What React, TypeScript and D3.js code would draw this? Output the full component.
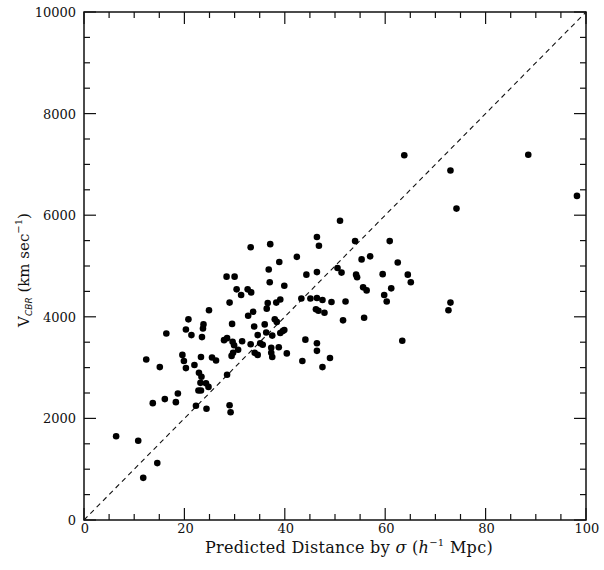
import React, { useRef, useEffect } from "react";
import * as d3 from "d3";

// predicted distance (h^-1 Mpc)
const distance: number[] = [
  6.4, 10.8, 11.8, 14.6, 12.4, 15.1, 13.7, 16.1, 18.3, 18.7,
  16.4, 19.6, 19.9, 20.3, 20.3, 20.8, 21.4, 22.0, 22.3, 23.3,
  23.5, 23.7, 23.8, 24.9, 22.9, 23.4, 23.2, 24.3, 24.8, 22.8,
  23.3, 24.4, 25.5, 26.3, 28.5, 29.0, 29.2, 29.0, 28.4, 30.0,
  30.4, 31.3, 29.5, 27.9, 28.5, 29.6, 29.9, 29.7, 29.4, 30.7,
  31.5, 32.6, 33.3, 32.7, 33.7, 33.9, 33.2, 34.0, 34.6, 34.6,
  35.1, 35.6, 36.0, 36.4, 36.6, 36.3, 36.8, 37.0, 37.5, 37.3,
  37.3, 37.5, 38.0, 38.4, 38.8, 38.9, 38.3, 39.1, 39.1, 39.6,
  39.9, 39.9, 40.4, 42.4, 43.3, 43.5, 44.3, 44.1, 45.1, 46.4,
  46.4, 47.5, 46.2, 46.7, 47.9, 46.4, 46.4, 47.5, 49.0, 49.3,
  50.5, 51.3, 52.1, 51.6, 54.2, 54.4, 55.3, 57.0, 55.6, 56.3,
  55.8, 59.5, 59.8, 60.3, 61.2, 62.5, 63.4, 64.5, 65.1, 72.6,
  73.0, 63.8, 88.5, 73.0, 74.2, 98.2, 51.0, 54.0, 60.9, 33.2,
  37.1, 46.4, 46.8,
];

// V_CBR (km/s)
const velocity: number[] = [
  1650, 1560, 830, 1120, 3160, 3010, 2300, 2380, 2320, 2490,
  3670, 3250, 3130, 2990, 3750, 3950, 3640, 3050, 2250, 3210,
  3600, 3770, 3850, 4130, 2900, 2820, 2700, 2690, 2620, 2550,
  2550, 2190, 3200, 3140, 2860, 2260, 2120, 4280, 4790, 4790,
  4540, 4430, 3860, 3540, 3580, 3510, 3440, 3290, 3230, 3350,
  3520, 4540, 4480, 4020, 4100, 3810, 3460, 3290, 3250, 3640,
  3480, 3450, 3850, 4160, 4270, 3690, 4930, 4680, 3630, 3390,
  3290, 3210, 3950, 3900, 3400, 5080, 4280, 4340, 3680, 3720,
  3740, 4610, 3280, 5180, 4360, 3130, 4830, 3550, 4360, 4880,
  4370, 4330, 4150, 4120, 4080, 3480, 3330, 3010, 3190, 4290,
  4960, 4870, 4300, 3930, 4830, 4780, 5130, 5190, 4580, 4520,
  3980, 4840, 4430, 4300, 4560, 5070, 3530, 4830, 4680, 4130,
  4280, 7180, 7190, 6880, 6130, 6380, 5890, 5490, 5490, 5370,
  5430, 5570, 5400,
];

const xTicks = [0, 20, 40, 60, 80, 100];
const yTicks = [0, 2000, 4000, 6000, 8000, 10000];

const FONT = "'DejaVu Serif', serif";

const App = () => {
  const svgRef = useRef<SVGSVGElement>(null);

  useEffect(() => {
    const svg = d3.select(svgRef.current);
    svg.selectAll("*").remove();

    const left = 84, right = 586, top = 12, bottom = 520;
    const ink = "#111";

    const x = d3.scaleLinear().domain([0, 100]).range([left, right]);
    const y = d3.scaleLinear().domain([0, 10000]).range([bottom, top]);

    const g = svg.append("g");

    // ticks on all four sides, pointing inward
    const xMinor = d3.range(0, 101, 5);
    const yMinor = d3.range(0, 10001, 500);
    const tickLen = (major: boolean) => (major ? 12 : 6);

    xMinor.forEach((v) => {
      const major = v % 20 === 0;
      g.append("line").attr("x1", x(v)).attr("x2", x(v))
        .attr("y1", bottom).attr("y2", bottom - tickLen(major))
        .attr("stroke", ink).attr("stroke-width", 1.2);
      g.append("line").attr("x1", x(v)).attr("x2", x(v))
        .attr("y1", top).attr("y2", top + tickLen(major))
        .attr("stroke", ink).attr("stroke-width", 1.2);
    });
    yMinor.forEach((v) => {
      const major = v % 2000 === 0;
      g.append("line").attr("x1", left).attr("x2", left + tickLen(major))
        .attr("y1", y(v)).attr("y2", y(v))
        .attr("stroke", ink).attr("stroke-width", 1.2);
      g.append("line").attr("x1", right).attr("x2", right - tickLen(major))
        .attr("y1", y(v)).attr("y2", y(v))
        .attr("stroke", ink).attr("stroke-width", 1.2);
    });

    g.append("rect")
      .attr("x", left).attr("y", top)
      .attr("width", right - left).attr("height", bottom - top)
      .attr("fill", "none").attr("stroke", ink).attr("stroke-width", 1.5);

    // tick labels
    g.selectAll(".xlab").data(xTicks).enter().append("text")
      .attr("x", (d) => x(d) + 1).attr("y", bottom + 13)
      .attr("text-anchor", "middle")
      .attr("font-family", FONT).attr("font-size", 13).attr("fill", ink)
      .text((d) => d);

    g.selectAll(".ylab").data(yTicks).enter().append("text")
      .attr("x", left - 8).attr("y", (d) => y(d) + 5)
      .attr("text-anchor", "end")
      .attr("font-family", FONT).attr("font-size", 13).attr("fill", ink)
      .text((d) => d);

    // one-to-one line
    g.append("line")
      .attr("x1", x(0)).attr("y1", y(0))
      .attr("x2", x(100)).attr("y2", y(10000))
      .attr("stroke", ink).attr("stroke-width", 1.1)
      .attr("stroke-dasharray", "5,4");

    // points
    g.selectAll(".pt").data(distance).enter().append("circle")
      .attr("cx", (d) => x(d))
      .attr("cy", (d, i) => y(velocity[i]))
      .attr("r", 3.3)
      .attr("fill", "#000");

    // x axis title
    const xt = g.append("text")
      .attr("x", 349).attr("y", 553)
      .attr("text-anchor", "middle")
      .attr("letter-spacing", 0.3)
      .attr("font-family", FONT).attr("font-size", 16).attr("fill", ink);
    xt.append("tspan").text("Predicted Distance by ");
    xt.append("tspan").attr("font-style", "italic").text("σ");
    xt.append("tspan").text(" (");
    xt.append("tspan").attr("font-style", "italic").text("h");
    xt.append("tspan").attr("font-size", 10).attr("dy", -7).text("−1");
    xt.append("tspan").attr("dy", 7).text(" Mpc)");

    // y axis title
    const yt = g.append("text")
      .attr("transform", `translate(29, ${(top + bottom) / 2 + 4}) rotate(-90)`)
      .attr("text-anchor", "middle")
      .attr("font-family", FONT).attr("font-size", 15).attr("fill", ink);
    yt.append("tspan").text("V");
    yt.append("tspan").attr("font-size", 9).attr("font-style", "italic")
      .attr("font-family", "'DejaVu Sans', sans-serif").attr("dy", 3).text("CBR");
    yt.append("tspan").attr("dy", -3).text(" (km sec");
    yt.append("tspan").attr("font-size", 10).attr("dy", -7).text("−1");
    yt.append("tspan").attr("dy", 7).text(")");
  }, []);

  return (
    <svg
      ref={svgRef}
      width={604}
      height={570}
      style={{ position: "absolute", left: 0, top: 0, background: "#fff" }}
    />
  );
};

export default App;
